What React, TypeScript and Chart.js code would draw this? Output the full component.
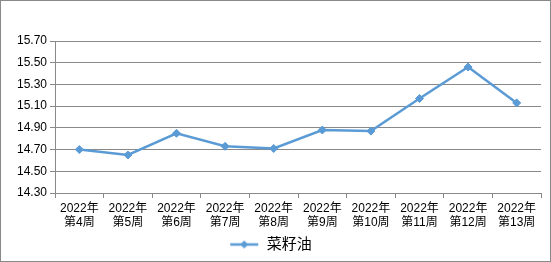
import React, { useEffect, useRef } from "react";
import { Chart, registerables } from "chart.js";

Chart.register(...registerables);

const categories: string[][] = [
  ["2022年", "第4周"],
  ["2022年", "第5周"],
  ["2022年", "第6周"],
  ["2022年", "第7周"],
  ["2022年", "第8周"],
  ["2022年", "第9周"],
  ["2022年", "第10周"],
  ["2022年", "第11周"],
  ["2022年", "第12周"],
  ["2022年", "第13周"],
];
const seriesName = "菜籽油";
const values = [14.7, 14.65, 14.85, 14.73, 14.71, 14.88, 14.87, 15.17, 15.46, 15.13];
const yMin = 14.3;
const yMax = 15.7;
const yStep = 0.2;

const LINE_COLOR = "#5B9BD5";
const GRID_COLOR = "#898989";
const FONT = "'Liberation Sans', 'Noto Sans CJK SC', sans-serif";

function makeLegendIcon(): HTMLCanvasElement {
  const c = document.createElement("canvas");
  c.width = 30;
  c.height = 12;
  const ctx = c.getContext("2d")!;
  ctx.strokeStyle = LINE_COLOR;
  ctx.lineWidth = 2.5;
  ctx.beginPath();
  ctx.moveTo(1, 6);
  ctx.lineTo(29, 6);
  ctx.stroke();
  ctx.fillStyle = LINE_COLOR;
  ctx.beginPath();
  ctx.moveTo(15, 2);
  ctx.lineTo(19, 6);
  ctx.lineTo(15, 10);
  ctx.lineTo(11, 6);
  ctx.closePath();
  ctx.fill();
  return c;
}

const frame = {
  id: "frame",
  beforeDraw(chart: any) {
    const { ctx, width, height } = chart;
    ctx.save();
    ctx.fillStyle = "#ffffff";
    ctx.fillRect(0, 0, width, height);
    ctx.strokeStyle = GRID_COLOR;
    ctx.lineWidth = 1;
    ctx.strokeRect(0.5, 0.5, width - 1, height - 1);
    ctx.restore();
  },
};

export default function App() {
  const ref = useRef<HTMLCanvasElement | null>(null);
  useEffect(() => {
    if (!ref.current) return;
    const icon = makeLegendIcon();
    const chart = new Chart(ref.current, {
      type: "line",
      data: {
        labels: categories,
        datasets: [
          {
            label: seriesName,
            data: values,
            borderColor: LINE_COLOR,
            backgroundColor: LINE_COLOR,
            borderWidth: 2.5,
            pointStyle: "rectRot",
            pointRadius: 4,
            pointBorderWidth: 1,
            pointBackgroundColor: LINE_COLOR,
            pointBorderColor: LINE_COLOR,
            tension: 0,
          },
        ],
      },
      options: {
        responsive: false,
        animation: false,
        devicePixelRatio: 1,
        layout: { padding: { left: 0, right: 10, top: 41, bottom: 0 } },
        font: { family: FONT },
        plugins: {
          tooltip: { enabled: false },
          legend: {
            position: "bottom",
            labels: {
              usePointStyle: true,
              pointStyleWidth: 30,
              padding: 10,
              color: "#000",
              font: { family: FONT, size: 15 },
              generateLabels: () => [
                {
                  text: seriesName,
                  pointStyle: icon as any,
                  fillStyle: LINE_COLOR,
                  strokeStyle: LINE_COLOR,
                  lineWidth: 0,
                  hidden: false,
                  datasetIndex: 0,
                } as any,
              ],
            },
          },
        },
        scales: {
          x: {
            offset: true,
            grid: {
              offset: true,
              display: true,
              drawOnChartArea: false,
              drawTicks: true,
              tickLength: 5,
              color: GRID_COLOR,
            },
            border: { display: true, color: GRID_COLOR, width: 1 },
            ticks: {
              color: "#000",
              font: { family: FONT, size: 12 },
              maxRotation: 0,
              autoSkip: false,
              padding: 3,
            },
            afterFit: (scale: any) => {
              scale.height = 34;
            },
          },
          y: {
            min: yMin,
            max: yMax,
            grid: {
              color: GRID_COLOR,
              lineWidth: 1,
              drawTicks: true,
              tickLength: 5,
            },
            border: { display: true, color: GRID_COLOR, width: 1 },
            ticks: {
              stepSize: yStep,
              color: "#000",
              font: { family: FONT, size: 12 },
              padding: 3,
              callback: (v: any) => Number(v).toFixed(2),
            },
            afterFit: (scale: any) => {
              scale.width = 55;
            },
          },
        },
      },
      plugins: [frame],
    });
    return () => chart.destroy();
  }, []);
  return (
    <div style={{ position: "fixed", left: 0, top: 0, width: 551, height: 262 }}>
      <canvas ref={ref} width={551} height={262} style={{ display: "block" }} />
    </div>
  );
}
